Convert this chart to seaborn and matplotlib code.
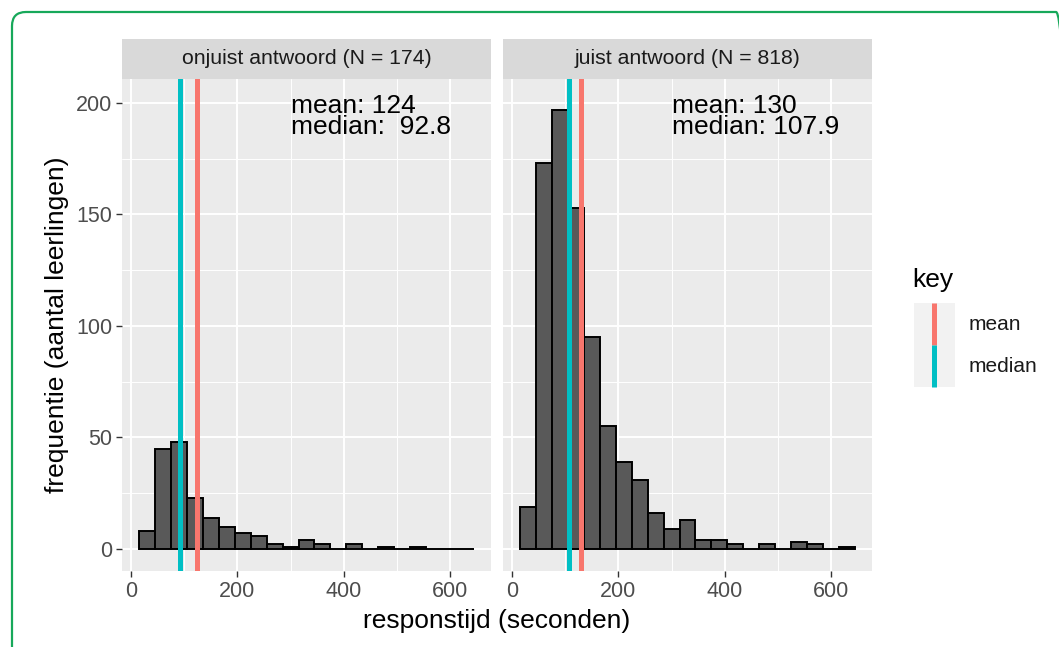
import numpy as np
import pandas as pd
import seaborn as sns
import matplotlib.pyplot as plt
from matplotlib.lines import Line2D
from matplotlib.patches import Rectangle, FancyBboxPatch

# Histogram bins (seconds) and counts
bin_edges = [15, 45, 75, 105, 135, 165, 195, 225, 255, 285, 315,
             345, 375, 405, 435, 465, 495, 525, 555, 585, 615, 645]
counts_onjuist = [8, 45, 48, 23, 14, 10, 7, 6, 2, 1, 4,
                  2, 0, 2, 0, 1, 0, 1, 0, 0, 0]
counts_juist = [19, 173, 197, 153, 95, 55, 39, 31, 16, 9, 13,
                4, 4, 2, 0, 2, 0, 3, 2, 0, 1]
panel_titles = ['onjuist antwoord (N = 174)', 'juist antwoord (N = 818)']
mean_vals = [124, 130]
median_vals = [92.8, 107.9]
stat_texts = ['mean: 124\nmedian:  92.8', 'mean: 130\nmedian: 107.9']
key_labels = ['mean', 'median']

MEAN_COL = '#F8766D'
MEDIAN_COL = '#00BFC4'

bin_mid = [(a + b) / 2 for a, b in zip(bin_edges[:-1], bin_edges[1:])]
df = pd.concat([
    pd.DataFrame({'panel': 0, 'mid': bin_mid, 'count': counts_onjuist}),
    pd.DataFrame({'panel': 1, 'mid': bin_mid, 'count': counts_juist}),
])

sns.set_style('darkgrid', {'axes.facecolor': '#EBEBEB', 'grid.color': 'white'})
plt.rcParams['font.family'] = ['Liberation Sans', 'DejaVu Sans']

W, H = 1059, 647
fig = plt.figure(figsize=(W / 100, H / 100), dpi=100)
fig.patch.set_facecolor('white')

def fx(px):
    return px / W

def fy(py):
    return 1 - py / H

panel_lefts = [122, 503]
panel_w = 369
top, bottom = 79, 571

for i in range(2):
    ax = fig.add_axes([fx(panel_lefts[i]), fy(bottom), fx(panel_w), (bottom - top) / H])
    sub = df[df['panel'] == i]
    sns.histplot(data=sub, x='mid', weights='count', bins=bin_edges, ax=ax,
                 color='#595959', edgecolor='black', linewidth=1.4, alpha=1, zorder=2)
    ax.axvline(mean_vals[i], color=MEAN_COL, lw=3.6, zorder=3)
    ax.axvline(median_vals[i], color=MEDIAN_COL, lw=3.6, zorder=3)
    ax.text(300, 194, stat_texts[i], ha='left', va='center', fontsize=19,
            color='black', linespacing=0.85, zorder=4)
    ax.set_xlim(-16.5, 676.5)
    ax.set_ylim(-9.9, 210.7)
    ax.set_xticks([0, 200, 400, 600])
    ax.set_xticks([100, 300, 500], minor=True)
    ax.set_yticks([0, 50, 100, 150, 200])
    ax.set_yticks([25, 75, 125, 175], minor=True)
    ax.grid(which='major', color='white', lw=1.4)
    ax.grid(which='minor', color='white', lw=0.7)
    ax.set_axisbelow(True)
    for s in ax.spines.values():
        s.set_visible(False)
    ax.tick_params(axis='both', which='major', length=4, width=1, color='#333333',
                   labelsize=15.5, labelcolor='#4D4D4D', pad=3, bottom=True, left=(i == 0))
    ax.tick_params(which='minor', length=0)
    if i == 1:
        ax.set_yticklabels([])
    ax.set_xlabel('')
    ax.set_ylabel('')

    # facet strip
    sax = fig.add_axes([fx(panel_lefts[i]), fy(top), fx(panel_w), 40 / H])
    sax.set_facecolor('#D9D9D9')
    sax.set_xticks([])
    sax.set_yticks([])
    sax.grid(False)
    for s in sax.spines.values():
        s.set_visible(False)
    sax.text(0.5, 0.5, panel_titles[i], ha='center', va='center',
             fontsize=15.3, color='#1A1A1A', transform=sax.transAxes)

fig.text(fx(497), fy(621), 'responstijd (seconden)', ha='center', va='center',
         fontsize=19, color='black')
fig.text(fx(57), fy(325), 'frequentie (aantal leerlingen)', ha='center', va='center',
         rotation=90, fontsize=19, color='black')

# legend
fig.text(fx(912), fy(280), 'key', ha='left', va='center', fontsize=19, color='black')
fig.patches.append(Rectangle((fx(914), fy(387)), fx(41), 84 / H, transform=fig.transFigure,
                             facecolor='#F2F2F2', edgecolor='none'))
key_cols = [MEAN_COL, MEDIAN_COL]
for k, (lab, col) in enumerate(zip(key_labels, key_cols)):
    y0 = 303 + 42 * k
    fig.lines.append(Line2D([fx(934), fx(934)], [fy(y0), fy(y0 + 42)],
                            transform=fig.transFigure, color=col, lw=3.6,
                            solid_capstyle='butt'))
    fig.text(fx(969), fy(y0 + 22), lab, ha='left', va='center', fontsize=15, color='#1A1A1A')

# green rounded frame, drawn in a pixel-scaled overlay axes (y measured from bottom)
oax = fig.add_axes([0, 0, 1, 1], zorder=10)
oax.set_xlim(0, W)
oax.set_ylim(0, H)
oax.axis('off')
oax.patch.set_alpha(0)
oax.add_patch(FancyBboxPatch((12, -80), 1058, H - 12 + 80,
                             boxstyle='round,pad=0,rounding_size=14',
                             facecolor='none', edgecolor='#17A85A', lw=1.6,
                             clip_on=False))

fig.savefig('out.png', dpi=100)
